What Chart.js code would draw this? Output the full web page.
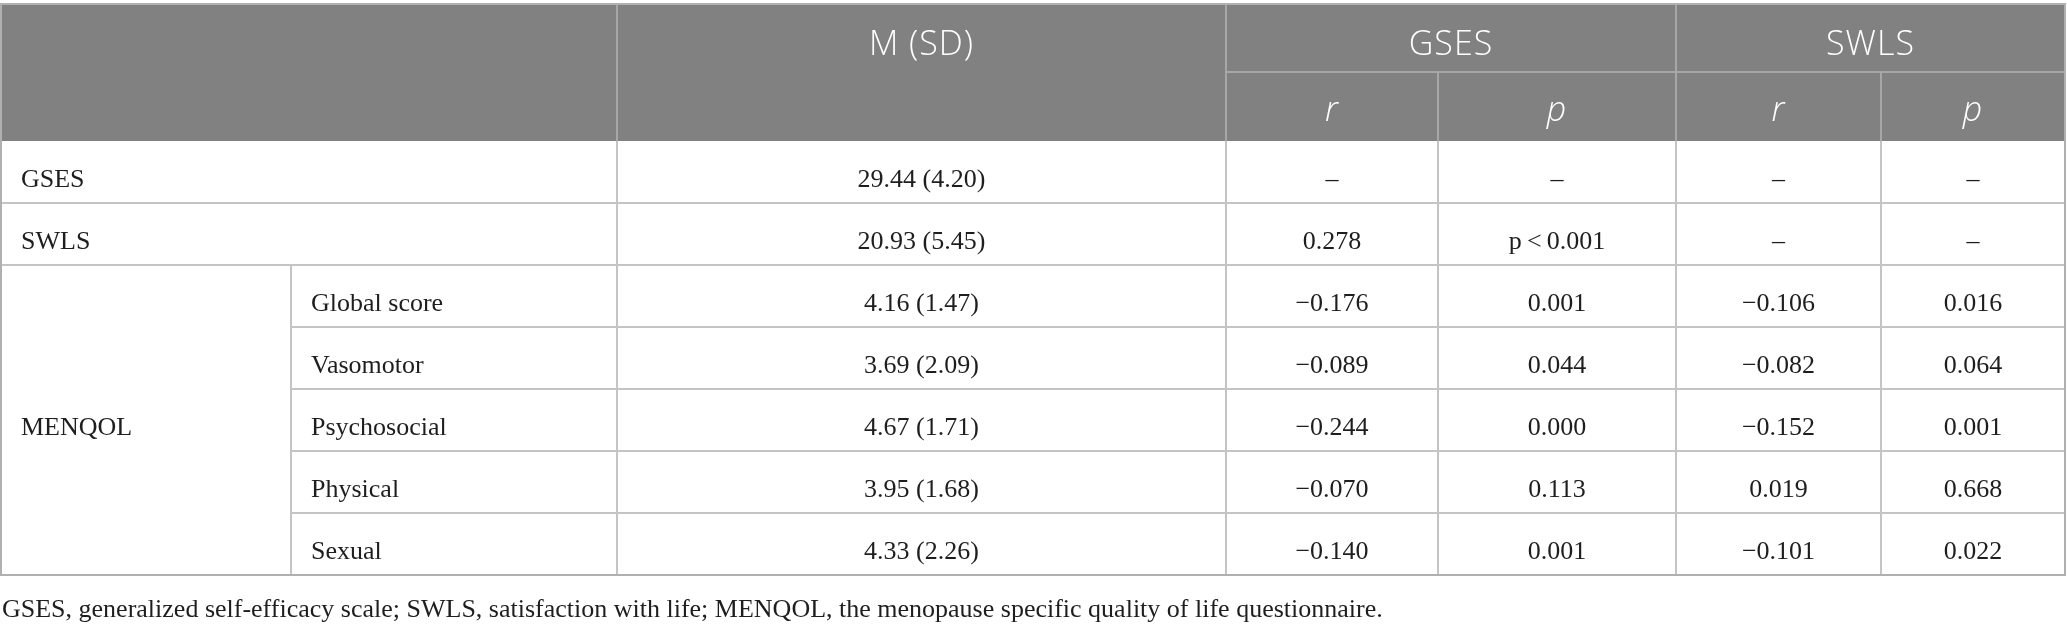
<!DOCTYPE html>
<html>
<head>
<meta charset="utf-8">
<script src="https://cdn.jsdelivr.net/npm/chart.js@4.4.1/dist/chart.umd.min.js"></script>
<style>
    html, body { margin: 0; padding: 0; background: #fff; }
    #wrap { width: 2067px; height: 626px; }
</style>
</head>
<body>
<div id="wrap"><canvas id="tableChart"></canvas></div>
<script>
// table content
const headerTop = ['', 'M (SD)', 'GSES', 'SWLS'];
const headerSub = ['r', 'p', 'r', 'p'];
const rowGroups = ['GSES', 'SWLS', 'MENQOL'];
const menqolItems = ['Global score', 'Vasomotor', 'Psychosocial', 'Physical', 'Sexual'];
const meanSD = ['29.44 (4.20)', '20.93 (5.45)', '4.16 (1.47)', '3.69 (2.09)', '4.67 (1.71)', '3.95 (1.68)', '4.33 (2.26)'];
const gsesR = ['–', '0.278', '−0.176', '−0.089', '−0.244', '−0.070', '−0.140'];
const gsesP = ['–', 'p\u2009<\u20090.001', '0.001', '0.044', '0.000', '0.113', '0.001'];
const swlsR = ['–', '–', '−0.106', '−0.082', '−0.152', '0.019', '−0.101'];
const swlsP = ['–', '–', '0.016', '0.064', '0.001', '0.668', '0.022'];
const footnote = 'GSES, generalized self-efficacy scale; SWLS, satisfaction with life; MENQOL, the menopause specific quality of life questionnaire.';

// layout (scale units)
const colEdges = [1, 291, 617, 1226, 1438, 1676, 1881, 2065];
const headTop = 4, headMid = 72, headBottom = 141;
const rowHeight = 62;

const headerFill = '#808180';
const headerLine = '#a6a7a6';
const bodyLine = '#c4c4c4';
const textColor = '#1e1e1e';
const serif = '"Liberation Serif", "DejaVu Serif", serif';
const sans = '"Open Sans", "Noto Sans", sans-serif';

const tablePlugin = {
    id: 'tablePlugin',
    afterDraw(chart) {
        const ctx = chart.ctx;
        const x = v => chart.scales.x.getPixelForValue(v);
        const y = v => chart.scales.y.getPixelForValue(v);
        const nRows = meanSD.length;
        const rowY = i => headBottom + i * rowHeight;
        const bodyBottom = rowY(nRows);

        const line = (x1, y1, x2, y2, color) => {
            ctx.strokeStyle = color;
            ctx.lineWidth = 2;
            ctx.beginPath();
            ctx.moveTo(x(x1), y(y1));
            ctx.lineTo(x(x2), y(y2));
            ctx.stroke();
        };
        const text = (str, cx, cy, align, font, color) => {
            ctx.font = font;
            ctx.fillStyle = color;
            ctx.textAlign = align;
            ctx.textBaseline = 'middle';
            ctx.fillText(str, x(cx), y(cy));
        };
        const mid = (a, b) => (a + b) / 2;

        ctx.save();

        // header block
        ctx.fillStyle = headerFill;
        ctx.fillRect(x(colEdges[0]), y(headTop), x(colEdges[7]) - x(colEdges[0]), y(headBottom) - y(headTop));
        [2, 3, 5].forEach(c => line(colEdges[c], headTop, colEdges[c], headBottom, headerLine));
        [4, 6].forEach(c => line(colEdges[c], headMid, colEdges[c], headBottom, headerLine));
        line(colEdges[3], headMid, colEdges[7], headMid, headerLine);

        ctx.letterSpacing = '1px';
        const hFont = '300 34px ' + sans;
        const hY = mid(headTop, headMid) + 7;
        text(headerTop[1], mid(colEdges[2], colEdges[3]), hY, 'center', hFont, '#ffffff');
        text(headerTop[2], mid(colEdges[3], colEdges[5]), hY, 'center', hFont, '#ffffff');
        text(headerTop[3], mid(colEdges[5], colEdges[7]), hY, 'center', hFont, '#ffffff');
        const sFont = 'italic 300 34px ' + sans;
        headerSub.forEach((s, i) => {
            text(s, mid(colEdges[3 + i], colEdges[4 + i]), mid(headMid, headBottom) + 5, 'center', sFont, '#ffffff');
        });
        ctx.letterSpacing = '0px';

        // body grid
        line(colEdges[0], rowY(1), colEdges[7], rowY(1), bodyLine);
        line(colEdges[0], rowY(2), colEdges[7], rowY(2), bodyLine);
        for (let i = 3; i < nRows; i++) {
            line(colEdges[1], rowY(i), colEdges[7], rowY(i), bodyLine);
        }
        [2, 3, 4, 5, 6].forEach(c => line(colEdges[c], headBottom, colEdges[c], bodyBottom, bodyLine));
        line(colEdges[1], rowY(2), colEdges[1], bodyBottom, bodyLine);

        // outer border
        ctx.strokeStyle = '#b0b0b0';
        ctx.lineWidth = 2;
        ctx.strokeRect(x(colEdges[0]), y(headTop), x(colEdges[7]) - x(colEdges[0]), y(bodyBottom) - y(headTop));

        // body text
        const bFont = '26px ' + serif;
        const pad = 20;
        const dy = 8;
        text(rowGroups[0], colEdges[0] + pad, mid(rowY(0), rowY(1)) + dy, 'left', bFont, textColor);
        text(rowGroups[1], colEdges[0] + pad, mid(rowY(1), rowY(2)) + dy, 'left', bFont, textColor);
        text(rowGroups[2], colEdges[0] + pad, mid(rowY(2), bodyBottom) + dy, 'left', bFont, textColor);
        menqolItems.forEach((s, i) => {
            text(s, colEdges[1] + pad, mid(rowY(i + 2), rowY(i + 3)) + dy, 'left', bFont, textColor);
        });
        const cols = [meanSD, gsesR, gsesP, swlsR, swlsP];
        cols.forEach((vals, c) => {
            vals.forEach((v, i) => {
                text(v, mid(colEdges[2 + c], colEdges[3 + c]), mid(rowY(i), rowY(i + 1)) + dy, 'center', bFont, textColor);
            });
        });

        // footnote
        text(footnote, 2, 610, 'left', bFont, textColor);

        ctx.restore();
    }
};

new Chart(document.getElementById('tableChart'), {
    type: 'scatter',
    data: { datasets: [{ data: [] }] },
    options: {
        responsive: true,
        maintainAspectRatio: false,
        animation: false,
        events: [],
        layout: { padding: 0 },
        scales: {
            x: { type: 'linear', min: 0, max: 2067, display: false },
            y: { type: 'linear', min: 0, max: 626, reverse: true, display: false }
        },
        plugins: {
            legend: { display: false },
            tooltip: { enabled: false }
        }
    },
    plugins: [tablePlugin]
});
</script>
</body>
</html>
